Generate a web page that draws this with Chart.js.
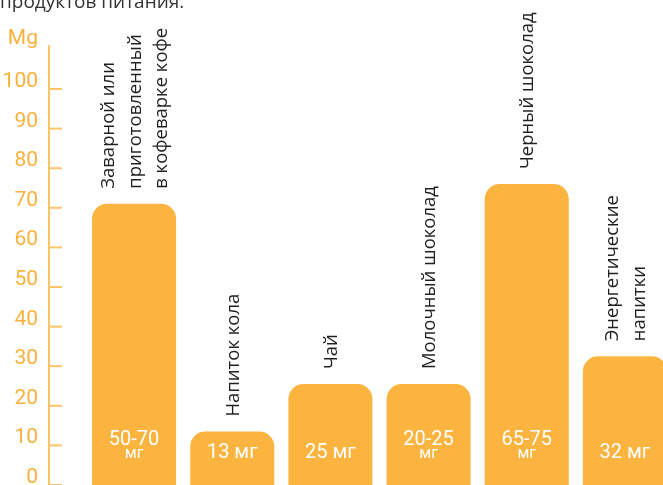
<!DOCTYPE html>
<html>
<head>
<meta charset="utf-8">
<script src="https://cdn.jsdelivr.net/npm/chart.js@4"></script>
<style>
  html, body { margin: 0; padding: 0; background: #fff; overflow: hidden; }
  #chart { display: block; }
</style>
</head>
<body>
<canvas id="chart" width="674" height="485"></canvas>
<script>
// data
const categories = [
    ['Заварной или', 'приготовленный', 'в кофеварке кофе'],
    ['Напиток кола'],
    ['Чай'],
    ['Молочный шоколад'],
    ['Черный шоколад'],
    ['Энергетические', 'напитки']
];
const caffeine = [71, 13.5, 25.5, 25.5, 76, 32.5];
const amountText = ['50-70', '13 мг', '25 мг', '20-25', '65-75', '32 мг'];
const amountUnit = ['мг', '', '', 'мг', 'мг', ''];
const yTicks = [0, 10, 20, 30, 40, 50, 60, 70, 80, 90, 100];
const yUnit = 'Mg';
const titleText = 'продуктов питания.';

const orange = '#FBB43F';
const axisOrange = '#FCC566';
const labelOrange = '#F9B13C';

// y axis drawn by hand: line, ticks to the right, labels on the left
const yAxisPlugin = {
    id: 'yAxisPlugin',
    afterDraw(chart) {
        const ctx = chart.ctx;
        const y = chart.scales.y;
        const axisX = 49;
        ctx.save();
        ctx.strokeStyle = axisOrange;
        ctx.lineWidth = 2;
        ctx.beginPath();
        ctx.moveTo(axisX, 45);
        ctx.lineTo(axisX, 485);
        ctx.stroke();

        ctx.fillStyle = labelOrange;
        ctx.font = '21px Roboto';
        ctx.textAlign = 'right';
        ctx.textBaseline = 'alphabetic';
        yTicks.forEach(v => {
            const py = y.getPixelForValue(v);
            ctx.beginPath();
            ctx.moveTo(axisX, py);
            ctx.lineTo(62, py);
            ctx.stroke();
            ctx.fillText(String(v), 38, py - 2);
        });
        ctx.fillText(yUnit, 38, 44);

        // cut-off title at the very top
        ctx.fillStyle = '#333';
        ctx.font = '19px "Open Sans"';
        ctx.textAlign = 'left';
        ctx.fillText(titleText, 0, 8);
        ctx.restore();
    }
};

// rotated category names above bars, amounts inside bars
const barTextPlugin = {
    id: 'barTextPlugin',
    afterDatasetsDraw(chart) {
        const ctx = chart.ctx;
        const meta = chart.getDatasetMeta(0);
        const lineH = 26.5;
        const capH = 13;
        meta.data.forEach((bar, i) => {
            const lines = categories[i];
            const n = lines.length;
            const firstBase = bar.x - ((n - 1) * lineH - capH) / 2;
            ctx.save();
            ctx.fillStyle = '#231f20';
            ctx.font = '18.5px "Open Sans"';
            ctx.textAlign = 'left';
            ctx.textBaseline = 'alphabetic';
            lines.forEach((t, j) => {
                ctx.save();
                ctx.translate(firstBase + j * lineH, bar.y - 15);
                ctx.rotate(-Math.PI / 2);
                ctx.fillText(t, 0, 0);
                ctx.restore();
            });

            ctx.fillStyle = '#fff';
            ctx.textAlign = 'center';
            if (amountUnit[i]) {
                ctx.font = '20px Roboto';
                ctx.fillText(amountText[i], bar.x, 445);
                ctx.font = '16px Roboto';
                ctx.fillText(amountUnit[i], bar.x, 458);
            } else {
                ctx.font = '20px Roboto';
                ctx.fillText(amountText[i], bar.x, 458);
            }
            ctx.restore();
        });
    }
};

new Chart(document.getElementById('chart'), {
    type: 'bar',
    data: {
        labels: categories,
        datasets: [{
            data: caffeine,
            backgroundColor: orange,
            borderRadius: { topLeft: 15, topRight: 15, bottomLeft: 0, bottomRight: 0 },
            borderSkipped: 'bottom',
            barPercentage: 0.856,
            categoryPercentage: 1
        }]
    },
    options: {
        responsive: false,
        animation: false,
        events: [],
        layout: { padding: { left: 85, right: 0, top: 49.4, bottom: 0 } },
        plugins: {
            legend: { display: false },
            tooltip: { enabled: false }
        },
        scales: {
            x: { display: false },
            y: { display: false, min: 0, max: 110 }
        }
    },
    plugins: [yAxisPlugin, barTextPlugin]
});
</script>
</body>
</html>
